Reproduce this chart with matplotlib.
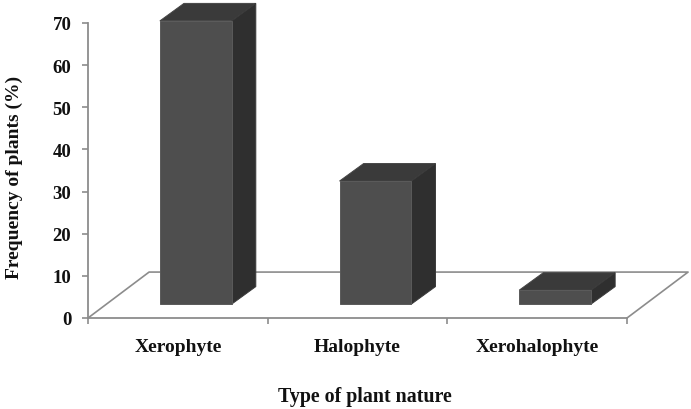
import matplotlib
matplotlib.use("Agg")
from matplotlib import pyplot as plt
from matplotlib.patches import Polygon

plt.rcParams['font.family'] = ['Liberation Serif', 'DejaVu Serif']
plt.rcParams['font.weight'] = 'bold'

categories = ["Xerophyte", "Halophyte", "Xerohalophyte"]
values = [67.2, 29.2, 3.3]
yticks = [0, 10, 20, 30, 40, 50, 60, 70]

# oblique offsets, in data units
FLOOR_DX = 0.34
FLOOR_DY = 10.9
BAR_X = 0.40
BAR_W = 0.40
BAR_BASE = 3.3
DEPTH_X = 0.134
DEPTH_Y = 4.15
AXCOL = "#8c8c8c"

fig = plt.figure(figsize=(6.91, 4.10), dpi=100)
ax = fig.add_axes([88/691, 91/410, 539/691, 295/410])
ax.set_xlim(0, 3)
ax.set_ylim(0, 70)

for s in ["top", "right"]:
    ax.spines[s].set_visible(False)
for s in ["left", "bottom"]:
    ax.spines[s].set_color(AXCOL)
    ax.spines[s].set_linewidth(1.3)

# floor of the 3d box
ax.plot([0, FLOOR_DX, 3 + FLOOR_DX, 3], [0, FLOOR_DY, FLOOR_DY, 0],
        color=AXCOL, linewidth=1.2, clip_on=False, zorder=1)

for i, v in enumerate(values):
    x0 = i + BAR_X
    x1 = x0 + BAR_W
    y0 = BAR_BASE
    y1 = BAR_BASE + v
    top = [(x0, y1), (x1, y1), (x1 + DEPTH_X, y1 + DEPTH_Y), (x0 + DEPTH_X, y1 + DEPTH_Y)]
    side = [(x1, y0), (x1 + DEPTH_X, y0 + DEPTH_Y), (x1 + DEPTH_X, y1 + DEPTH_Y), (x1, y1)]
    front = [(x0, y0), (x1, y0), (x1, y1), (x0, y1)]
    ax.add_patch(Polygon(top, facecolor="#3a3a3a", edgecolor="#454545", linewidth=0.7, clip_on=False, zorder=3))
    ax.add_patch(Polygon(side, facecolor="#2f2f2f", edgecolor="#3a3a3a", linewidth=0.7, clip_on=False, zorder=3))
    ax.add_patch(Polygon(front, facecolor="#4e4e4e", edgecolor="#5a5a5a", linewidth=0.7, clip_on=False, zorder=4))

ax.set_yticks(yticks)
ax.set_xticks([0, 1, 2, 3])
ax.set_xticklabels([])
ax.tick_params(axis='y', length=4, width=1.2, color=AXCOL, labelsize=13.5, pad=8, labelcolor="#111111")
ax.tick_params(axis='x', length=4, width=1.2, color=AXCOL)

for i, c in enumerate(categories):
    ax.text(i + 0.5, -6.7, c, ha='center', va='center', fontsize=14, color="#111111")

fig.text(365/691, 1 - 397/410, "Type of plant nature", ha='center', va='center', fontsize=14.4, color="#111111")
fig.text(14/691, 1 - 177/410, "Frequency of plants (%)", rotation=90, ha='center', va='center', fontsize=14, color="#111111")

plt.savefig("out.png", dpi=100)
